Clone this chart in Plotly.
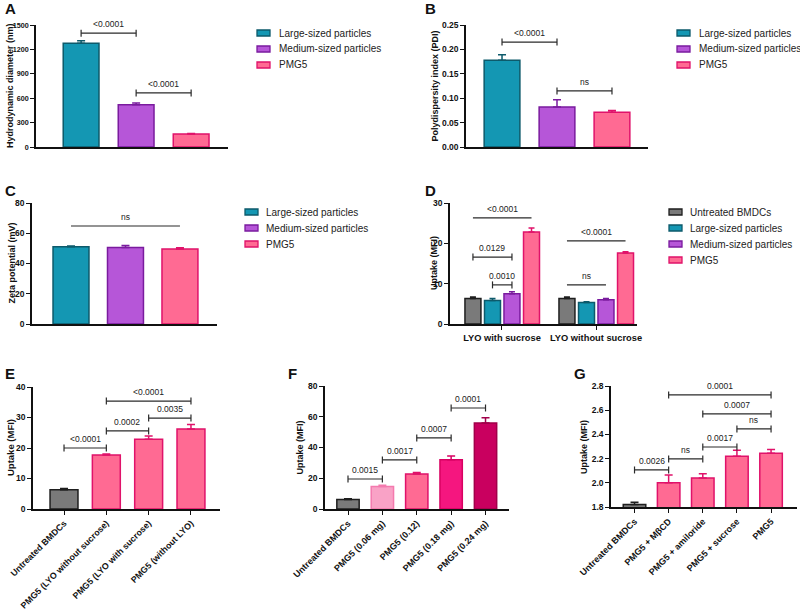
import plotly.graph_objects as go

FONT = "Liberation Sans, Arial, Helvetica, sans-serif"
W, H = 800, 612

# ---------------- data ----------------
particle_types = ["Large-sized particles", "Medium-sized particles", "PMG5"]
diameter_mean = [1275, 520, 160]
diameter_sd = [30, 20, 6]
pdi_mean = [0.178, 0.082, 0.071]
pdi_sd = [0.011, 0.015, 0.004]
zeta_mean = [51.0, 50.6, 49.6]
zeta_sd = [0.5, 1.3, 0.8]

lyo_conditions = ["LYO with sucrose", "LYO without sucrose"]
uptake_series = ["Untreated BMDCs", "Large-sized particles", "Medium-sized particles", "PMG5"]
uptake_untreated = [6.3, 6.3]
uptake_untreated_sd = [0.4, 0.4]
uptake_large = [5.8, 5.3]
uptake_large_sd = [0.5, 0.2]
uptake_medium = [7.5, 6.0]
uptake_medium_sd = [0.5, 0.3]
uptake_pmg5 = [22.8, 17.6]
uptake_pmg5_sd = [1.0, 0.3]

lyo_labels = ["Untreated BMDCs", "PMG5 (LYO without sucrose)", "PMG5 (LYO with sucrose)", "PMG5 (without LYO)"]
lyo_mean = [6.3, 17.7, 22.9, 26.2]
lyo_sd = [0.4, 0.3, 1.0, 1.5]

dose_labels = ["Untreated BMDCs", "PMG5 (0.06 mg)", "PMG5 (0.12)", "PMG5 (0.18 mg)", "PMG5 (0.24 mg)"]
dose_mean = [6.2, 14.6, 22.8, 32.0, 56.0]
dose_sd = [0.5, 0.9, 1.0, 2.5, 3.3]

inhib_labels = ["Untreated BMDCs", "PMG5 + MβCD", "PMG5 + amiloride", "PMG5 + sucrose", "PMG5"]
inhib_mean = [1.82, 2.00, 2.04, 2.22, 2.245]
inhib_sd = [0.02, 0.065, 0.035, 0.05, 0.03]

# significance comparisons: (from bar, to bar, height, label, end caps)
sig_a = [(0, 1, 1400, "<0.0001", True), (1, 2, 665, "<0.0001", True)]
sig_b = [(0, 1, 0.215, "<0.0001", True), (1, 2, 0.115, "ns", True)]
sig_c = [(0, 2, 64.8, "ns", False)]
# panel D bars are addressed as (condition index, series index)
sig_d = [((0, 0), (0, 3), 26.3, "<0.0001", False),
         ((0, 0), (0, 2), 16.6, "0.0129", True),
         ((0, 1), (0, 2), 9.7, "0.0010", True),
         ((1, 0), (1, 3), 20.6, "<0.0001", False),
         ((1, 0), (1, 2), 9.7, "ns", False)]
sig_e = [(0, 1, 20.0, "<0.0001", True), (1, 2, 25.6, "0.0002", True),
         (2, 3, 29.8, "0.0035", True), (1, 3, 35.4, "<0.0001", True)]
sig_f = [(0, 1, 19.5, "0.0015", True), (1, 2, 31.9, "0.0017", True),
         (2, 3, 46.2, "0.0007", True), (3, 4, 65.7, "0.0001", True)]
sig_g = [(0, 1, 2.106, "0.0026", True), (1, 2, 2.197, "ns", True),
         (2, 3, 2.296, "0.0017", True), (3, 4, 2.445, "ns", True),
         (2, 4, 2.569, "0.0007", True), (1, 4, 2.726, "0.0001", True)]

# ---------------- styles ----------------
TEAL = ("#1497B3", "#0D5A6B")
PURPLE = ("#B656D8", "#7A1B9E")
PINK = ("#FF6A93", "#E0126A")
GRAY = ("#7A7A7A", "#1E1E1E")
LIGHTPINK = ("#F9A2C6", "#F47AAE")
HOTPINK = ("#F5167F", "#D80062")
MAGENTA = ("#C9005F", "#A1004A")
particle_styles = [TEAL, PURPLE, PINK]
uptake_styles = [GRAY, TEAL, PURPLE, PINK]
lyo_styles = [GRAY, PINK, PINK, PINK]
dose_styles = [GRAY, LIGHTPINK, PINK, HOTPINK, MAGENTA]
inhib_styles = [GRAY, PINK, PINK, PINK, PINK]

fig = go.Figure()


def add_bars(ax, cats, means, sds, styles, width):
    for i, cat in enumerate(cats):
        fill, line = styles[i]
        fig.add_trace(go.Bar(
            x=[cat], y=[means[i]], width=width, name=cat,
            marker=dict(color=fill, line=dict(color=line, width=1.5)),
            error_y=dict(type="data", array=[sds[i]], arrayminus=[0], symmetric=False,
                         color=line, thickness=1.5, width=4),
            xaxis="x" + ax, yaxis="y" + ax, showlegend=False,
        ))


add_bars("", particle_types, diameter_mean, diameter_sd, particle_styles, 0.65)
add_bars("2", particle_types, pdi_mean, pdi_sd, particle_styles, 0.65)
add_bars("3", particle_types, zeta_mean, zeta_sd, particle_styles, 0.66)

d_offsets = [-0.309, -0.101, 0.106, 0.314]
d_width = 0.17
d_values = [uptake_untreated, uptake_large, uptake_medium, uptake_pmg5]
d_sds = [uptake_untreated_sd, uptake_large_sd, uptake_medium_sd, uptake_pmg5_sd]
for s, name in enumerate(uptake_series):
    fill, line = uptake_styles[s]
    fig.add_trace(go.Bar(
        x=lyo_conditions, y=d_values[s], width=d_width, offset=d_offsets[s] - d_width / 2,
        name=name, marker=dict(color=fill, line=dict(color=line, width=1.5)),
        error_y=dict(type="data", array=d_sds[s], arrayminus=[0, 0], symmetric=False,
                     color=line, thickness=1.5, width=3),
        xaxis="x4", yaxis="y4", showlegend=False,
    ))

add_bars("5", lyo_labels, lyo_mean, lyo_sd, lyo_styles, 0.66)
add_bars("6", dose_labels, dose_mean, dose_sd, dose_styles, 0.65)
add_bars("7", inhib_labels, inhib_mean, inhib_sd, inhib_styles, 0.66)


# ---------------- layout ----------------
def xdom(a, b):
    return [a / W, b / W]


def ydom(top, bottom):
    return [1 - bottom / H, 1 - top / H]


def tfont(size):
    return dict(family=FONT, size=size, color="#111", weight="bold")


yaxis_common = dict(showline=True, linecolor="#111", linewidth=1.5, ticks="outside", ticklen=4,
                    tickwidth=1.2, tickcolor="#111", showgrid=False, zeroline=False,
                    tickfont=tfont(8.5), fixedrange=True, automargin=False)
xaxis_common = dict(showline=True, linecolor="#111", linewidth=1.5, showgrid=False, zeroline=False,
                    type="category", tickfont=tfont(9), fixedrange=True, tickcolor="#111",
                    tickwidth=1.2, ticklen=4, automargin=False)

layout = dict(
    width=W, height=H, margin=dict(l=0, r=0, t=0, b=0, autoexpand=False),
    paper_bgcolor="white", plot_bgcolor="white", barmode="overlay", showlegend=False,
    font=dict(family=FONT, color="#111"),
)
axes = {
    "": dict(x=xdom(36, 228), y=ydom(25, 147), xr=[-0.82, 2.67], yr=[0, 1500], dt=300, cats=particle_types, xt=False, yf=7.2),
    "2": dict(x=xdom(466, 648), y=ydom(25, 147), xr=[-0.655, 2.655], yr=[0, 0.25], dt=0.05, cats=particle_types, xt=False, fmt=".2f"),
    "3": dict(x=xdom(32, 217), y=ydom(203, 324), xr=[-0.716, 2.68], yr=[0, 80], dt=20, cats=particle_types, xt=False),
    "4": dict(x=xdom(450, 637), y=ydom(203, 324), xr=[-0.553, 1.436], yr=[0, 30], dt=10, cats=lyo_conditions, xt=True, angle=0, xf=9.3),
    "5": dict(x=xdom(33, 220), y=ydom(387, 509), xr=[-0.733, 3.686], yr=[0, 40], dt=10, cats=lyo_labels, xt=True, angle=-45, xf=8.8),
    "6": dict(x=xdom(325, 509), y=ydom(386, 509), xr=[-0.669, 4.683], yr=[0, 80], dt=20, cats=dose_labels, xt=True, angle=-45, xf=9),
    "7": dict(x=xdom(611, 797), y=ydom(386, 507), xr=[-0.689, 4.76], yr=[1.8, 2.8], dt=0.2, cats=inhib_labels, xt=True, angle=-45, fmt=".1f", xf=9),
}
for k, a in axes.items():
    xa = dict(xaxis_common, domain=a["x"], range=a["xr"], anchor="y" + k,
              categoryorder="array", categoryarray=a["cats"])
    if a["xt"]:
        xa.update(ticks="outside", showticklabels=True, tickangle=a["angle"], tickfont=tfont(a["xf"]))
    else:
        xa.update(ticks="", showticklabels=False)
    ya = dict(yaxis_common, domain=a["y"], range=a["yr"], dtick=a["dt"], tick0=a["yr"][0], anchor="x" + k)
    if "fmt" in a:
        ya["tickformat"] = a["fmt"]
    if "yf" in a:
        ya["tickfont"] = tfont(a["yf"])
    layout["xaxis" + k] = xa
    layout["yaxis" + k] = ya

fig.update_layout(**layout)

shapes = []
annotations = []


def bracket(ax, x0, x1, y, label, caps):
    xr, yr = "x" + ax, "y" + ax
    line = dict(color="#2a2a2a", width=1.2)
    shapes.append(dict(type="line", xref=xr, yref=yr, x0=x0, x1=x1, y0=y, y1=y, line=line))
    if caps:
        for xc in (x0, x1):
            shapes.append(dict(type="line", xref=xr, yref=yr, x0=xc, x1=xc, ysizemode="pixel",
                               yanchor=y, y0=-3.5, y1=3.5, line=line))
    annotations.append(dict(xref=xr, yref=yr, x=(x0 + x1) / 2, y=y, text=label, showarrow=False,
                            yanchor="bottom", yshift=2, font=dict(family=FONT, size=8.5, color="#222")))


for ax, sigs in (("", sig_a), ("2", sig_b), ("3", sig_c), ("5", sig_e), ("6", sig_f), ("7", sig_g)):
    for i, j, y, lab, caps in sigs:
        bracket(ax, i, j, y, lab, caps)
for (g0, s0), (g1, s1), y, lab, caps in sig_d:
    bracket("4", g0 + d_offsets[s0], g1 + d_offsets[s1], y, lab, caps)

# legends (drawn as key swatches + text): (labels, styles, swatch left px, text left px, first row y px)
legend_boxes = [(particle_types, particle_styles, 257, 277, 33),
                (particle_types, particle_styles, 677, 697, 33),
                (particle_types, particle_styles, 245, 264, 212),
                (uptake_series, uptake_styles, 669, 688, 212)]
for labels, styles, sx, tx, y0 in legend_boxes:
    for r, lab in enumerate(labels):
        yc = y0 + 16 * r
        fill, line = styles[r]
        shapes.append(dict(type="rect", xref="paper", yref="paper", x0=sx / W, x1=(sx + 13) / W,
                           y0=1 - (yc - 3) / H, y1=1 - (yc + 3) / H, fillcolor=fill,
                           line=dict(color=line, width=1.3)))
        annotations.append(dict(xref="paper", yref="paper", x=tx / W, y=1 - yc / H, text=lab,
                                showarrow=False, xanchor="left", yanchor="middle",
                                font=dict(family=FONT, size=10, color="#222")))

# panel letters
for letter, px, py in (("A", 3, 9), ("B", 423, 9), ("C", 3, 190), ("D", 423, 190),
                       ("E", 3, 373), ("F", 286, 373), ("G", 572, 373)):
    annotations.append(dict(xref="paper", yref="paper", x=px / W, y=1 - py / H, text=letter,
                            showarrow=False, xanchor="left", yanchor="middle",
                            font=dict(family=FONT, size=15, color="#111", weight="bold")))

# y-axis titles
for title, px, py, fs in (("Hydrodynamic diameter (nm)", 10, 86, 9), ("Polydispersity index (PDI)", 434.5, 86, 9),
                          ("Zeta potential (mV)", 11.5, 263, 9), ("Uptake (MFI)", 434, 263, 9),
                          ("Uptake (MFI)", 11, 448, 9.5), ("Uptake (MFI)", 299.5, 448, 9),
                          ("Uptake (MFI)", 584, 447, 9)):
    annotations.append(dict(xref="paper", yref="paper", x=px / W, y=1 - py / H, text=title,
                            showarrow=False, textangle=-90, xanchor="center", yanchor="middle",
                            font=dict(family=FONT, size=fs, color="#111", weight="bold")))

fig.update_layout(shapes=shapes, annotations=annotations)
fig.write_html("out.html", config={"displayModeBar": False},
               post_script="document.body.style.margin='0';")
